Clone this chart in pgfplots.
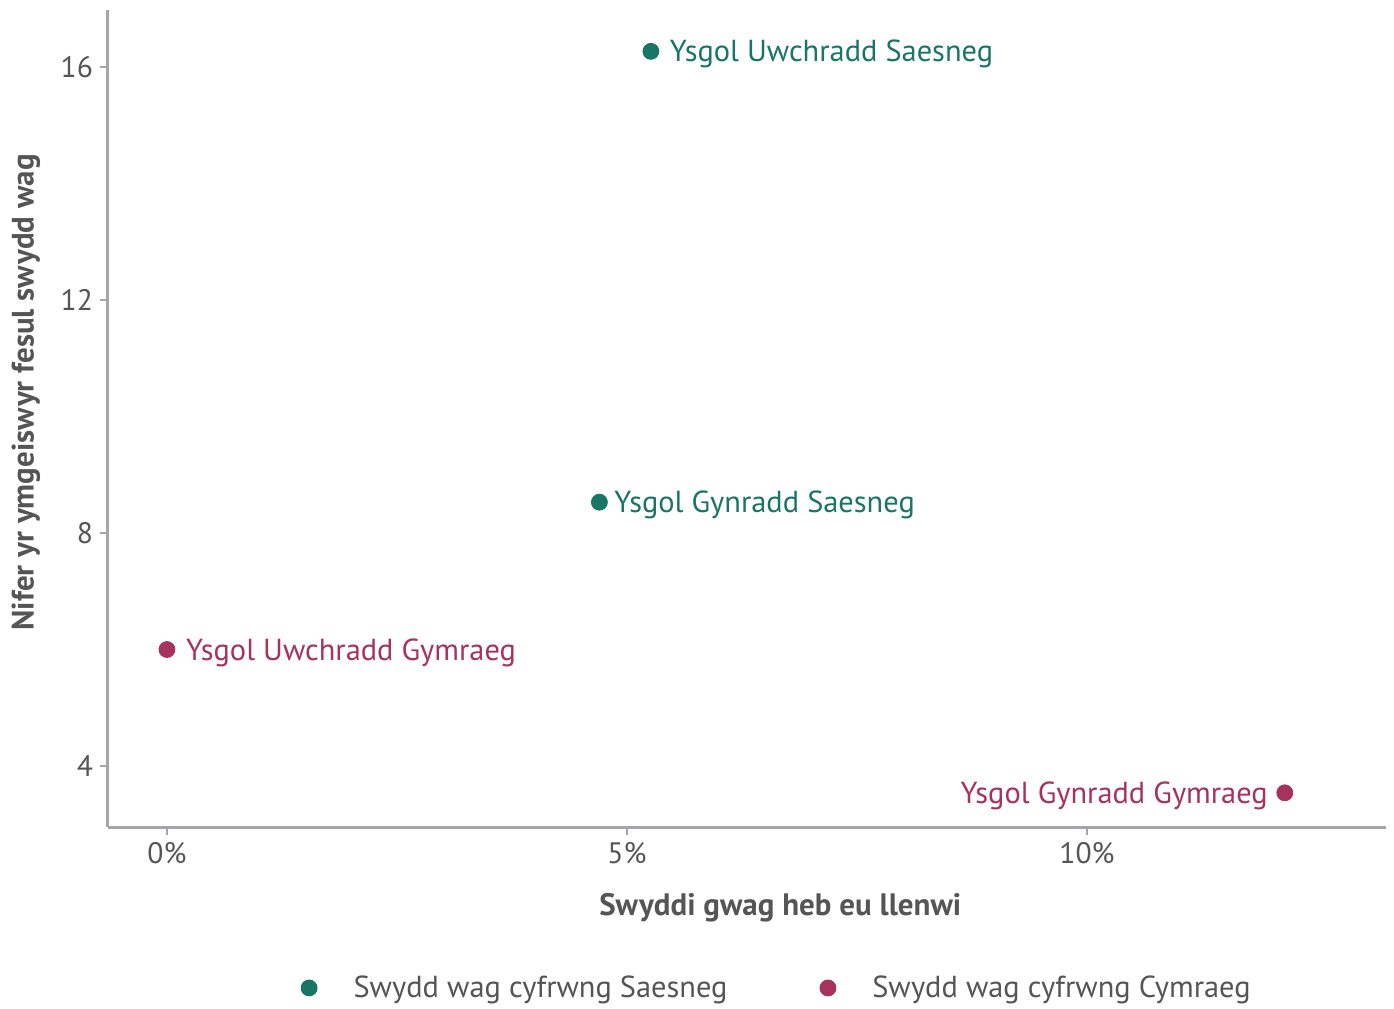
\documentclass[border=0pt]{standalone}
\usepackage{fontspec}
\setmainfont{PT Sans}
\usepackage{pgfplots}
\pgfplotsset{compat=1.18}
\definecolor{teal}{RGB}{25,117,101}
\definecolor{plum}{RGB}{166,50,94}
\definecolor{txt}{RGB}{85,85,85}
\definecolor{axg}{RGB}{165,165,170}

\begin{document}
\begin{tikzpicture}[font=\fontsize{15.2}{17}\selectfont]
\begin{axis}[
  scale only axis,
  width=639pt, height=408.5pt,
  xmin=-0.641, xmax=13.25,
  ymin=2.953, ymax=16.98,
  axis lines*=left,
  axis line style={axg, line width=1.5pt},
  tick style={axg, line width=1.3pt},
  tick align=outside,
  major tick length=4pt,
  xtick={0,5,10}, xticklabels={0\%,5\%,10\%},
  ytick={4,8,12,16},
  ticklabel style={txt, font=\fontsize{14.8}{17}\selectfont},
  /pgf/number format/assume math mode=true,
  xlabel={\bfseries Swyddi gwag heb eu llenwi},
  ylabel={\bfseries Nifer yr ymgeiswyr fesul swydd wag},
  xlabel style={txt, at={(rel axis cs:0.526,0)}, anchor=center, yshift=-40.5pt},
  ylabel style={txt, at={(rel axis cs:0,0.532)}, anchor=center, yshift=41pt},
  label style={font=\fontsize{15.5}{17}\selectfont},
  clip=false,
  legend columns=2,
  legend style={draw=none, at={(rel axis cs:0.524,-0.197)}, anchor=center,
    text=txt, font=\fontsize{15.2}{17}\selectfont,
    /tikz/every even column/.append style={column sep=44pt}},
  legend cell align=left,
  legend image code/.code={\fill (0pt,0pt) circle (4pt);},
]
\addplot[only marks, mark=*, mark size=4pt, color=teal]
  coordinates {(5.26,16.27) (4.70,8.53)};
\addlegendentry{\hspace{16pt}Swydd wag cyfrwng Saesneg}
\addplot[only marks, mark=*, mark size=4pt, color=plum]
  coordinates {(0,6.0) (12.15,3.54)};
\addlegendentry{\hspace{16pt}Swydd wag cyfrwng Cymraeg}

\node[anchor=west, teal, xshift=6pt, yshift=-1.5pt] at (axis cs:5.26,16.27) {Ysgol Uwchradd Saesneg};
\node[anchor=west, teal, xshift=4pt, yshift=-1.5pt] at (axis cs:4.70,8.53) {Ysgol Gynradd Saesneg};
\node[anchor=west, plum, xshift=6pt, yshift=-1.5pt] at (axis cs:0,6.0) {Ysgol Uwchradd Gymraeg};
\node[anchor=east, plum, xshift=-5pt, yshift=-1.5pt] at (axis cs:12.15,3.54) {Ysgol Gynradd Gymraeg};
\end{axis}
\useasboundingbox ([xshift=-54pt,yshift=-89pt]current axis.south west)
  rectangle ([xshift=4pt,yshift=5pt]current axis.north east);
\end{tikzpicture}
\end{document}
